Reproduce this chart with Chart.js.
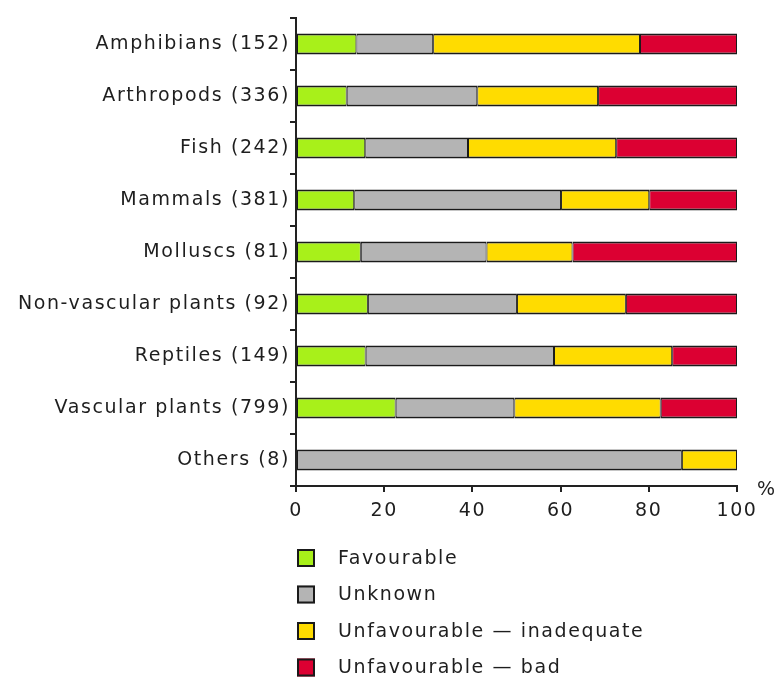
<!DOCTYPE html>
<html><head><meta charset="utf-8">
<script src="https://cdn.jsdelivr.net/npm/chart.js@4"></script>
<style>html,body{margin:0;padding:0;background:#fff;}#wrap{position:relative;width:779px;height:677px;}</style>
</head><body><div id="wrap"><canvas id="c" width="779" height="677"></canvas></div>
<script>
const categories = ["Amphibians (152)","Arthropods (336)","Fish (242)","Mammals (381)","Molluscs (81)","Non-vascular plants (92)","Reptiles (149)","Vascular plants (799)","Others (8)"];
const favourable = [13.7, 11.5, 15.7, 13.2, 14.7, 16.3, 15.8, 22.6, 0];
const unknown    = [17.4, 29.6, 23.3, 46.9, 28.5, 33.8, 42.7, 26.9, 87.5];
const inadequate = [46.9, 27.4, 33.6, 20.0, 19.5, 24.7, 26.8, 33.2, 12.5];
const bad        = [22.0, 31.5, 27.4, 19.9, 37.3, 25.2, 14.7, 17.3, 0];
const seriesNames = ["Favourable","Unknown","Unfavourable \u2014 inadequate","Unfavourable \u2014 bad"];
const xTicks = [0,20,40,60,80,100];
const colors = ["#a8f01a","#b4b4b4","#ffdc00","#dc0032"];
const FONT = "DejaVu Sans";
const FS = 19;
const LS = "1.6px";
const TXT = "#1e1e1e";

const seriesData = [favourable, unknown, inadequate, bad];
const datasets = seriesData.map((d,i)=>({
  label: seriesNames[i], data: d, backgroundColor: colors[i],
  borderColor: "#1a1a1a", borderWidth: {top:2,bottom:2,left:1,right:1}, borderSkipped: false,
  barPercentage: 0.8, categoryPercentage: 0.5
}));

const extras = {
  id: "extras",
  beforeDraw(chart){ chart.ctx.letterSpacing = LS; },
  afterDraw(chart){
    const ctx = chart.ctx, xs = chart.scales.x;
    ctx.save();
    ctx.fillStyle = TXT;
    ctx.font = FS + "px '" + FONT + "'";
    ctx.textBaseline = "middle";
    ctx.textAlign = "left";
    ctx.letterSpacing = "0px";
    ctx.fillText("%", xs.right + 20, xs.top + 4);
    ctx.letterSpacing = LS;
    chart.data.datasets.forEach((ds,i)=>{
      const y = 558 + i*36.5;
      const x = xs.left + 1;
      ctx.fillStyle = ds.backgroundColor;
      ctx.fillRect(x, y-9, 18, 18);
      ctx.strokeStyle = "#1a1a1a"; ctx.lineWidth = 2;
      ctx.strokeRect(x+1, y-8, 16, 16);
      ctx.fillStyle = TXT;
      ctx.fillText(ds.label, x + 41, y + 1);
    });
    ctx.restore();
    ctx.letterSpacing = "0px";
  }
};

new Chart(document.getElementById("c"), {
  type: "bar",
  data: { labels: categories, datasets },
  options: {
    indexAxis: "y", responsive: false, animation: false,
    layout: { padding: { top: 18, right: 42, bottom: 151, left: 0 } },
    plugins: { legend: { display: false }, tooltip: { enabled: false } },
    scales: {
      x: {
        stacked: true, min: 0, max: 100,
        afterBuildTicks(s){ s.ticks = xTicks.map(v=>({value:v})); },
        afterFit(s){ s.height = 40; },
        grid: { drawOnChartArea: false, drawTicks: true, tickLength: 6, color: "#222", lineWidth: 2 },
        border: { color: "#222", width: 2 },
        ticks: { color: TXT, font: { family: FONT, size: FS }, padding: 8, maxRotation: 0 }
      },
      y: {
        stacked: true,
        afterFit(s){ s.width = 296; },
        grid: { drawOnChartArea: false, drawTicks: true, tickLength: 6, offset: true, color: "#222", lineWidth: 2 },
        border: { color: "#222", width: 2 },
        ticks: { color: TXT, font: { family: FONT, size: FS }, padding: 0 }
      }
    }
  },
  plugins: [extras]
});
</script></body></html>
